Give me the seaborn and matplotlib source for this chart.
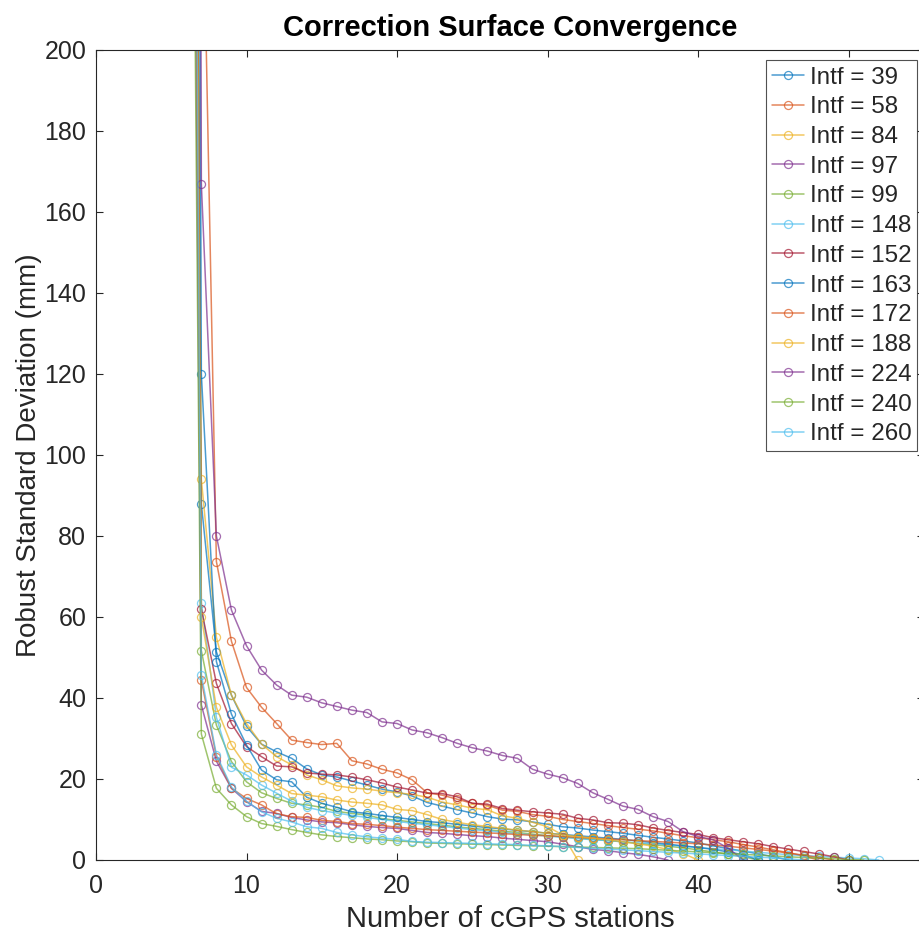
import numpy as np
import pandas as pd
import matplotlib
matplotlib.use("Agg")
import matplotlib.pyplot as plt
import seaborn as sns

# values (robust std in mm vs number of cGPS stations)
intf_39 = [700, 88, 51.4, 40.7, 33, 28.6, 26.7, 25.1, 22.5, 21, 20.5, 19.5, 18.5, 17.5, 16.8, 15.8, 14.2,
           13.3, 12.4, 11.6, 10.7, 10.1, 9.9, 9.4, 8.8, 8.2, 7.9, 7.4, 7, 6.6, 6.1, 5.6, 5.2, 4.7, 4.2,
           3.5, 2.8, 2.2, 1.5, 0.8, 0]
intf_58 = [900, 262, 73.7, 54, 42.6, 37.7, 33.7, 29.6, 29, 28.5, 28.8, 24.5, 23.7, 22.4, 21.5, 19.8, 16.6,
           16, 15, 14, 13.5, 12.3, 12, 11.2, 10.8, 10, 9.5, 9, 8.5, 8, 7.6, 7.2, 6.6, 6, 5.5, 5, 4.5,
           3.8, 3.2, 2.5, 1.8, 1, 0]
intf_84 = [600, 94, 55, 40.7, 33.7, 28.6, 25.5, 23.5, 21, 19.8, 18.3, 17.8, 17.5, 17, 16.6, 16.2, 15.5,
           14.3, 13.6, 12.8, 12.4, 10.9, 10.3, 9.3, 8.2, 6.2, 0]
intf_97 = [500, 38.3, 24.4, 17.7, 14.4, 12, 11.5, 10.5, 9.9, 9.4, 9.2, 8.7, 8.3, 8, 7.8, 7.3, 6.8, 6.6,
           6.3, 6, 5.8, 5.4, 5.1, 4.8, 4.5, 3.9, 3.3, 2.6, 2.3, 1.8, 1.4, 0.8, 0]
intf_99 = [800, 51.7, 33.3, 24.3, 19.3, 16.6, 15.2, 14, 13.6, 13, 12, 11.5, 11.1, 10.2, 9.8, 9.4, 9, 8.6,
           8.2, 7.8, 7.5, 7.1, 6.8, 6.4, 6, 5.7, 5.4, 5.1, 4.8, 4.5, 4.1, 3.8, 3.4, 3, 2.5, 2, 1.4, 0.8, 0]
intf_148 = [650, 63.5, 35.2, 22.9, 21, 18.5, 16.5, 14.5, 13, 12.2, 11.6, 11, 10.5, 10, 9.5, 9.1, 8.7, 8.3,
            7.9, 7.5, 7.2, 6.8, 6.5, 6.2, 5.9, 5.6, 5.3, 5, 4.8, 4.5, 4.2, 4, 3.7, 3.4, 3.1, 2.8, 2.5,
            2.2, 1.9, 1.6, 1.3, 1.1, 0.9, 0.7, 0.5, 0.3, 0]
intf_152 = [750, 62, 43.6, 33.7, 28, 25.5, 23.2, 23, 21.5, 21.2, 21, 20.5, 19.8, 19, 18, 17.3, 16.5, 16.4,
            15.6, 14, 13.8, 12.7, 12.3, 11.9, 11.6, 11.3, 10.3, 9.9, 9.2, 9.1, 8.7, 7.9, 7.3, 6.8, 6.3,
            5.5, 5, 4.5, 4, 3.3, 2.7, 2.1, 1.5, 0.8, 0]
intf_163 = [1200, 120, 49, 36, 28.4, 22.2, 19.8, 19.3, 15.5, 14, 13, 11.9, 11.5, 11, 10.5, 10, 9.5, 9.2,
            8.8, 8.4, 8, 7.7, 7.3, 7, 6.6, 6.3, 6, 5.7, 5.4, 5.1, 4.7, 4.3, 3.9, 3.5, 3.1, 2.6, 2, 1.3, 0]
intf_172 = [550, 44.4, 25.5, 17.7, 15.2, 13.6, 11.4, 10.7, 10.5, 9.8, 9.5, 9, 8.8, 8.5, 8.1, 7.8, 7.5,
            7.3, 7.1, 6.9, 6.7, 6.5, 6.3, 6.1, 6, 5.8, 5.6, 5.4, 5.2, 5, 4.8, 4.6, 4.4, 4.2, 4, 3.7, 3.4,
            3, 2.6, 2.2, 1.7, 1.2, 0.6, 0]
intf_188 = [700, 60, 37.7, 28.4, 23, 20.5, 18.5, 16.4, 16, 15.6, 14.8, 14.3, 14, 13.6, 12.5, 12.2, 11.2,
            10, 9.3, 8.7, 8.3, 7.8, 7.4, 7, 6.6, 6.2, 5.8, 5.4, 5, 4.5, 4, 3.4, 2.6, 1.6, 0]
intf_224 = [1800, 167, 80, 61.7, 52.9, 46.9, 43.2, 40.7, 40.2, 38.8, 37.9, 37, 36.4, 34.1, 33.7, 32.1, 31.4,
            30.2, 28.8, 27.7, 26.9, 25.8, 25.1, 22.4, 21.2, 20.3, 18.9, 16.6, 15, 13.3, 12.5, 10.7, 9.5,
            7, 5.8, 5, 2.9, 0]
intf_240 = [450, 31.1, 17.7, 13.6, 10.7, 9, 8.3, 7.5, 6.8, 6.2, 5.8, 5.5, 5.2, 5, 4.7, 4.5, 4.2, 4.1, 4,
            3.9, 3.8, 3.7, 3.6, 3.5, 3.4, 3.3, 3.2, 3.1, 3, 2.9, 2.8, 2.6, 2.4, 2.2, 2, 1.8, 1.6, 1.4,
            1.2, 1, 0.8, 0.6, 0.5, 0.3, 0.1, 0]
intf_260 = [600, 45.7, 26, 18, 14.5, 11.9, 10.3, 9.4, 8.2, 7.8, 6.8, 6.2, 5.7, 5.4, 5.1, 4.6, 4.4, 4.3,
            4.2, 4.1, 4, 3.9, 3.8, 3.6, 3.5, 3.3, 3.1, 2.9, 2.7, 2.5, 2.3, 2.1, 1.9, 1.7, 1.5, 1.3, 1.1,
            0.9, 0.7, 0.5, 0.3, 0]

intf_ids = [39, 58, 84, 97, 99, 148, 152, 163, 172, 188, 224, 240, 260]
series = [intf_39, intf_58, intf_84, intf_97, intf_99, intf_148, intf_152, intf_163,
          intf_172, intf_188, intf_224, intf_240, intf_260]
first_station = 6

matlab_colors = ["#0072BD", "#D95319", "#EDB120", "#7E2F8E", "#77AC30", "#4DBEEE", "#A2142F"]

rows = []
for intf, vals in zip(intf_ids, series):
    for i, v in enumerate(vals):
        rows.append({"stations": first_station + i, "std": v, "Intf": f"Intf = {intf}"})
df = pd.DataFrame(rows)

sns.set_style("white")
plt.rcParams["font.family"] = ["Liberation Sans", "DejaVu Sans"]

fig = plt.figure(figsize=(9.2, 9.36), dpi=100)
ax = fig.add_axes([0.1043, 0.0812, 0.9, 0.8654])

labels = [f"Intf = {i}" for i in intf_ids]
palette = {lab: matlab_colors[k % 7] for k, lab in enumerate(labels)}
for lab in labels:
    sub = df[df["Intf"] == lab]
    c = palette[lab]
    sns.lineplot(data=sub, x="stations", y="std", ax=ax, color=c, marker="o",
                 markersize=5.8, markerfacecolor="none", markeredgecolor=c, markeredgewidth=0.9,
                 linewidth=1.1, alpha=0.7, label=lab, sort=False, estimator=None)

ax.set_xlim(0, 55)
ax.set_ylim(0, 200)
ax.set_xticks(range(0, 51, 10))
ax.set_yticks(range(0, 201, 20))
ax.tick_params(direction="in", length=5, width=0.8, labelsize=18, colors="#262626",
               top=True, right=True, bottom=True, left=True, pad=7)
ax.tick_params(axis="x", pad=10)
for s in ax.spines.values():
    s.set_color("#262626")
    s.set_linewidth(0.8)

ax.set_xlabel("Number of cGPS stations", fontsize=21, color="#262626", labelpad=5)
ax.set_ylabel("Robust Standard Deviation (mm)", fontsize=20, color="#262626", labelpad=2)
ax.set_title("Correction Surface Convergence", fontsize=21, fontweight="bold", pad=10, color="black")

leg = ax.legend(loc="upper right", bbox_to_anchor=(0.995, 0.99), fontsize=17.4, frameon=True,
                fancybox=False, handlelength=1.3, handletextpad=0.25, labelspacing=0.32,
                borderpad=0.25, borderaxespad=0.1)
leg.get_frame().set_edgecolor("#262626")
leg.get_frame().set_linewidth(0.8)

fig.savefig("out.png", dpi=100)
